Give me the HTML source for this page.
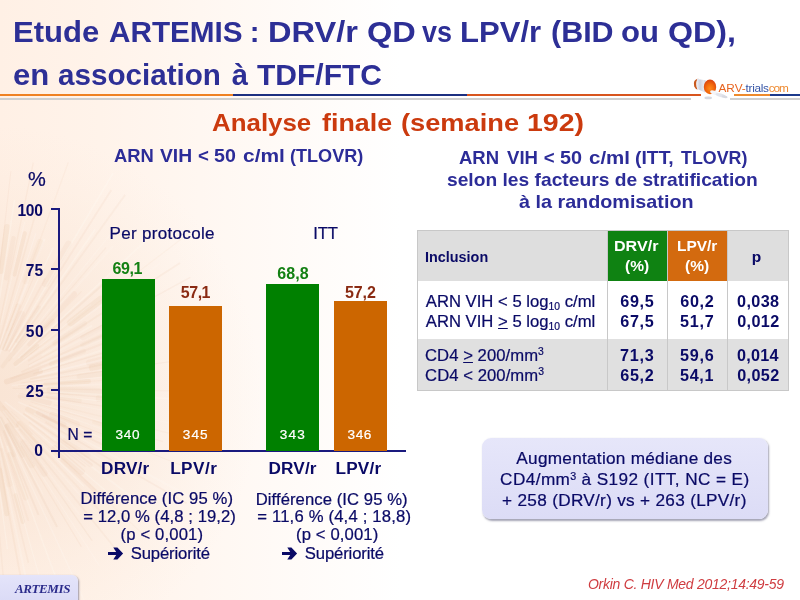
<!DOCTYPE html>
<html lang="fr">
<head>
<meta charset="utf-8">
<title>Etude ARTEMIS : DRV/r QD vs LPV/r (BID ou QD), en association à TDF/FTC</title>
<style>
html,body{margin:0;padding:0;}
body{width:800px;height:600px;overflow:hidden;position:relative;background:#fff;font-family:"Liberation Sans",sans-serif;}
#slide{position:absolute;left:0;top:0;width:800px;height:600px;overflow:hidden;will-change:transform;
  background:linear-gradient(90deg,#fff0e5 0%,#fff3ea 12.5%,#fff7f1 25%,#fffbf8 37.5%,#ffffff 50%);}
#burst{position:absolute;left:0;top:0;width:800px;height:600px;}
.t{position:absolute;white-space:nowrap;line-height:1;margin:0;padding:0;}
.s{position:absolute;}
u{text-decoration:underline;text-underline-offset:1px;}
</style>
</head>
<body>
<div id="slide">
<!-- dandelion burst -->
<svg id="burst" width="800" height="600" viewBox="0 0 800 600">
<defs>
<radialGradient id="bg1" cx="-8" cy="395" r="270" gradientUnits="userSpaceOnUse">
<stop offset="0" stop-color="#f1d5be" stop-opacity="0.42"/>
<stop offset="0.5" stop-color="#f3d9c4" stop-opacity="0.3"/>
<stop offset="1" stop-color="#f8e4d2" stop-opacity="0"/>
</radialGradient>
</defs>
<rect x="0" y="120" width="300" height="480" fill="url(#bg1)"/>
<line x1="1.1" y1="271.3" x2="6.9" y2="226.9" stroke="#d9a47a" stroke-opacity="0.10" stroke-width="5.6" stroke-linecap="round"/>
<line x1="6.1" y1="278.2" x2="13.5" y2="238.2" stroke="#d9a47a" stroke-opacity="0.08" stroke-width="4.7" stroke-linecap="round"/>
<line x1="14.4" y1="274.6" x2="24.8" y2="233.2" stroke="#d9a47a" stroke-opacity="0.11" stroke-width="4.1" stroke-linecap="round"/>
<line x1="25.9" y1="280.8" x2="40.2" y2="242.4" stroke="#d9a47a" stroke-opacity="0.06" stroke-width="6.9" stroke-linecap="round"/>
<line x1="1.9" y1="347.4" x2="18.2" y2="305.8" stroke="#d9a47a" stroke-opacity="0.09" stroke-width="5.1" stroke-linecap="round"/>
<line x1="5.2" y1="348.1" x2="21.6" y2="313.9" stroke="#d9a47a" stroke-opacity="0.08" stroke-width="6.3" stroke-linecap="round"/>
<line x1="45.5" y1="283.9" x2="68.4" y2="243.8" stroke="#d9a47a" stroke-opacity="0.08" stroke-width="6.5" stroke-linecap="round"/>
<line x1="17.1" y1="340.9" x2="38.9" y2="307.9" stroke="#d9a47a" stroke-opacity="0.07" stroke-width="4.4" stroke-linecap="round"/>
<line x1="2.6" y1="366.3" x2="30.8" y2="329.5" stroke="#d9a47a" stroke-opacity="0.07" stroke-width="4.0" stroke-linecap="round"/>
<line x1="44.8" y1="325.2" x2="74.2" y2="293.9" stroke="#d9a47a" stroke-opacity="0.09" stroke-width="5.5" stroke-linecap="round"/>
<line x1="29.2" y1="344.4" x2="52.8" y2="320.7" stroke="#d9a47a" stroke-opacity="0.08" stroke-width="4.1" stroke-linecap="round"/>
<line x1="15.4" y1="364.0" x2="37.4" y2="346.1" stroke="#d9a47a" stroke-opacity="0.10" stroke-width="4.2" stroke-linecap="round"/>
<line x1="70.7" y1="322.6" x2="101.0" y2="299.3" stroke="#d9a47a" stroke-opacity="0.10" stroke-width="7.4" stroke-linecap="round"/>
<line x1="54.6" y1="343.3" x2="84.8" y2="323.6" stroke="#d9a47a" stroke-opacity="0.07" stroke-width="4.7" stroke-linecap="round"/>
<line x1="82.5" y1="337.6" x2="124.4" y2="315.7" stroke="#d9a47a" stroke-opacity="0.08" stroke-width="4.7" stroke-linecap="round"/>
<line x1="82.4" y1="344.8" x2="127.8" y2="324.5" stroke="#d9a47a" stroke-opacity="0.07" stroke-width="4.7" stroke-linecap="round"/>
<line x1="50.9" y1="363.7" x2="83.9" y2="351.3" stroke="#d9a47a" stroke-opacity="0.07" stroke-width="4.3" stroke-linecap="round"/>
<line x1="6.7" y1="381.6" x2="40.0" y2="371.3" stroke="#d9a47a" stroke-opacity="0.11" stroke-width="5.6" stroke-linecap="round"/>
<line x1="89.1" y1="362.7" x2="123.4" y2="354.3" stroke="#d9a47a" stroke-opacity="0.08" stroke-width="6.2" stroke-linecap="round"/>
<line x1="92.1" y1="367.8" x2="122.1" y2="362.1" stroke="#d9a47a" stroke-opacity="0.11" stroke-width="6.6" stroke-linecap="round"/>
<line x1="79.4" y1="376.5" x2="119.6" y2="371.5" stroke="#d9a47a" stroke-opacity="0.07" stroke-width="5.5" stroke-linecap="round"/>
<line x1="45.7" y1="384.1" x2="88.5" y2="381.4" stroke="#d9a47a" stroke-opacity="0.10" stroke-width="4.9" stroke-linecap="round"/>
<line x1="50.3" y1="390.0" x2="98.6" y2="391.6" stroke="#d9a47a" stroke-opacity="0.07" stroke-width="7.4" stroke-linecap="round"/>
<line x1="99.3" y1="398.5" x2="131.9" y2="401.5" stroke="#d9a47a" stroke-opacity="0.07" stroke-width="7.2" stroke-linecap="round"/>
<line x1="48.0" y1="396.4" x2="79.7" y2="400.6" stroke="#d9a47a" stroke-opacity="0.07" stroke-width="4.2" stroke-linecap="round"/>
<line x1="20.6" y1="396.0" x2="49.1" y2="402.7" stroke="#d9a47a" stroke-opacity="0.08" stroke-width="5.6" stroke-linecap="round"/>
<line x1="94.1" y1="422.1" x2="122.1" y2="430.9" stroke="#d9a47a" stroke-opacity="0.06" stroke-width="4.1" stroke-linecap="round"/>
<line x1="52.3" y1="414.6" x2="76.9" y2="424.5" stroke="#d9a47a" stroke-opacity="0.08" stroke-width="6.2" stroke-linecap="round"/>
<line x1="38.7" y1="412.7" x2="63.8" y2="424.5" stroke="#d9a47a" stroke-opacity="0.08" stroke-width="5.6" stroke-linecap="round"/>
<line x1="27.7" y1="409.1" x2="70.4" y2="430.8" stroke="#d9a47a" stroke-opacity="0.09" stroke-width="5.2" stroke-linecap="round"/>
<line x1="65.5" y1="440.2" x2="87.8" y2="454.9" stroke="#d9a47a" stroke-opacity="0.06" stroke-width="5.7" stroke-linecap="round"/>
<line x1="57.9" y1="441.0" x2="90.6" y2="465.1" stroke="#d9a47a" stroke-opacity="0.09" stroke-width="4.3" stroke-linecap="round"/>
<line x1="54.9" y1="448.4" x2="81.5" y2="471.7" stroke="#d9a47a" stroke-opacity="0.09" stroke-width="6.6" stroke-linecap="round"/>
<line x1="62.6" y1="460.3" x2="94.6" y2="490.5" stroke="#d9a47a" stroke-opacity="0.09" stroke-width="4.1" stroke-linecap="round"/>
<line x1="19.5" y1="424.2" x2="38.9" y2="445.3" stroke="#d9a47a" stroke-opacity="0.09" stroke-width="6.7" stroke-linecap="round"/>
<line x1="-2.8" y1="401.9" x2="15.7" y2="424.8" stroke="#d9a47a" stroke-opacity="0.09" stroke-width="6.1" stroke-linecap="round"/>
<line x1="23.5" y1="443.0" x2="44.1" y2="473.3" stroke="#d9a47a" stroke-opacity="0.08" stroke-width="7.1" stroke-linecap="round"/>
<line x1="8.5" y1="426.0" x2="31.7" y2="464.9" stroke="#d9a47a" stroke-opacity="0.07" stroke-width="6.6" stroke-linecap="round"/>
<line x1="6.5" y1="426.2" x2="22.4" y2="455.8" stroke="#d9a47a" stroke-opacity="0.08" stroke-width="4.5" stroke-linecap="round"/>
<line x1="-5.0" y1="409.6" x2="13.7" y2="454.7" stroke="#d9a47a" stroke-opacity="0.07" stroke-width="5.0" stroke-linecap="round"/>
<line x1="10.1" y1="454.6" x2="25.7" y2="497.8" stroke="#d9a47a" stroke-opacity="0.09" stroke-width="5.3" stroke-linecap="round"/>
<line x1="15.5" y1="495.2" x2="22.9" y2="522.0" stroke="#d9a47a" stroke-opacity="0.10" stroke-width="4.1" stroke-linecap="round"/>
<line x1="1.2" y1="451.3" x2="9.0" y2="483.8" stroke="#d9a47a" stroke-opacity="0.06" stroke-width="6.8" stroke-linecap="round"/>
<line x1="-0.4" y1="469.9" x2="6.8" y2="513.8" stroke="#d9a47a" stroke-opacity="0.10" stroke-width="4.9" stroke-linecap="round"/>
<line x1="-10.2" y1="318.9" x2="-6.5" y2="253.2" stroke="#e0b591" stroke-opacity="0.08" stroke-width="1.6"/>
<line x1="-10.5" y1="348.5" x2="-2.6" y2="258.4" stroke="#fffaf5" stroke-opacity="0.19" stroke-width="2.0"/>
<line x1="-7.6" y1="332.1" x2="10.9" y2="171.3" stroke="#e0b591" stroke-opacity="0.10" stroke-width="1.0"/>
<line x1="-5.1" y1="329.3" x2="14.5" y2="200.0" stroke="#fffaf5" stroke-opacity="0.29" stroke-width="1.6"/>
<line x1="-7.9" y1="359.0" x2="33.3" y2="162.6" stroke="#e0b591" stroke-opacity="0.11" stroke-width="1.3"/>
<line x1="0.7" y1="324.8" x2="24.6" y2="222.0" stroke="#fffaf5" stroke-opacity="0.22" stroke-width="1.2"/>
<line x1="-7.9" y1="366.5" x2="38.4" y2="203.8" stroke="#e0b591" stroke-opacity="0.11" stroke-width="1.6"/>
<line x1="-2.2" y1="351.4" x2="35.8" y2="233.4" stroke="#fffaf5" stroke-opacity="0.30" stroke-width="1.1"/>
<line x1="6.7" y1="331.3" x2="68.3" y2="162.4" stroke="#e0b591" stroke-opacity="0.08" stroke-width="1.3"/>
<line x1="-4.4" y1="363.6" x2="44.6" y2="238.8" stroke="#fffaf5" stroke-opacity="0.30" stroke-width="2.1"/>
<line x1="8.4" y1="336.1" x2="34.3" y2="275.9" stroke="#e0b591" stroke-opacity="0.10" stroke-width="1.0"/>
<line x1="4.2" y1="349.9" x2="53.2" y2="247.4" stroke="#fffaf5" stroke-opacity="0.29" stroke-width="1.3"/>
<line x1="6.3" y1="350.5" x2="45.3" y2="278.4" stroke="#e0b591" stroke-opacity="0.10" stroke-width="1.8"/>
<line x1="8.7" y1="349.6" x2="113.2" y2="172.8" stroke="#fffaf5" stroke-opacity="0.29" stroke-width="1.6"/>
<line x1="9.1" y1="351.6" x2="111.3" y2="189.9" stroke="#e0b591" stroke-opacity="0.10" stroke-width="1.8"/>
<line x1="10.4" y1="352.5" x2="95.2" y2="229.3" stroke="#fffaf5" stroke-opacity="0.28" stroke-width="1.7"/>
<line x1="13.3" y1="350.1" x2="125.1" y2="194.9" stroke="#e0b591" stroke-opacity="0.09" stroke-width="1.8"/>
<line x1="26.1" y1="338.5" x2="111.4" y2="233.2" stroke="#fffaf5" stroke-opacity="0.20" stroke-width="1.2"/>
<line x1="8.8" y1="361.3" x2="106.0" y2="247.6" stroke="#e0b591" stroke-opacity="0.09" stroke-width="1.1"/>
<line x1="12.7" y1="358.1" x2="112.7" y2="246.4" stroke="#fffaf5" stroke-opacity="0.17" stroke-width="2.1"/>
<line x1="34.9" y1="338.6" x2="81.6" y2="291.4" stroke="#e0b591" stroke-opacity="0.08" stroke-width="1.2"/>
<line x1="18.4" y1="358.2" x2="162.3" y2="225.6" stroke="#fffaf5" stroke-opacity="0.27" stroke-width="1.5"/>
<line x1="20.2" y1="357.7" x2="108.9" y2="279.1" stroke="#e0b591" stroke-opacity="0.12" stroke-width="2.1"/>
<line x1="23.0" y1="358.6" x2="91.0" y2="304.6" stroke="#fffaf5" stroke-opacity="0.22" stroke-width="1.0"/>
<line x1="30.3" y1="354.2" x2="182.4" y2="238.2" stroke="#e0b591" stroke-opacity="0.07" stroke-width="1.2"/>
<line x1="15.0" y1="367.3" x2="160.1" y2="263.4" stroke="#fffaf5" stroke-opacity="0.19" stroke-width="1.6"/>
<line x1="28.0" y1="360.9" x2="180.0" y2="263.0" stroke="#e0b591" stroke-opacity="0.11" stroke-width="1.9"/>
<line x1="41.4" y1="355.5" x2="92.1" y2="325.7" stroke="#fffaf5" stroke-opacity="0.25" stroke-width="2.0"/>
<line x1="28.1" y1="365.2" x2="190.3" y2="277.4" stroke="#e0b591" stroke-opacity="0.10" stroke-width="1.3"/>
<line x1="28.9" y1="366.2" x2="161.0" y2="299.1" stroke="#fffaf5" stroke-opacity="0.18" stroke-width="2.1"/>
<line x1="21.3" y1="372.1" x2="116.9" y2="329.1" stroke="#e0b591" stroke-opacity="0.11" stroke-width="2.1"/>
<line x1="40.7" y1="365.0" x2="120.0" y2="331.8" stroke="#fffaf5" stroke-opacity="0.17" stroke-width="2.1"/>
<line x1="10.5" y1="378.7" x2="145.4" y2="327.6" stroke="#e0b591" stroke-opacity="0.10" stroke-width="2.1"/>
<line x1="39.1" y1="370.7" x2="124.9" y2="342.7" stroke="#fffaf5" stroke-opacity="0.25" stroke-width="2.0"/>
<line x1="33.3" y1="373.9" x2="145.5" y2="340.4" stroke="#e0b591" stroke-opacity="0.12" stroke-width="1.4"/>
<line x1="37.0" y1="375.6" x2="146.0" y2="349.2" stroke="#fffaf5" stroke-opacity="0.30" stroke-width="2.0"/>
<line x1="30.2" y1="379.1" x2="106.7" y2="363.7" stroke="#e0b591" stroke-opacity="0.12" stroke-width="1.7"/>
<line x1="30.5" y1="380.8" x2="128.8" y2="365.0" stroke="#fffaf5" stroke-opacity="0.18" stroke-width="1.2"/>
<line x1="21.2" y1="383.0" x2="191.4" y2="358.6" stroke="#e0b591" stroke-opacity="0.10" stroke-width="1.2"/>
<line x1="11.6" y1="385.6" x2="118.0" y2="375.8" stroke="#fffaf5" stroke-opacity="0.21" stroke-width="1.5"/>
<line x1="18.0" y1="385.9" x2="154.2" y2="377.2" stroke="#e0b591" stroke-opacity="0.11" stroke-width="1.0"/>
<line x1="27.6" y1="386.7" x2="152.7" y2="382.8" stroke="#fffaf5" stroke-opacity="0.21" stroke-width="2.1"/>
<line x1="12.5" y1="388.4" x2="209.0" y2="391.5" stroke="#e0b591" stroke-opacity="0.09" stroke-width="1.1"/>
<line x1="49.9" y1="391.7" x2="223.7" y2="401.8" stroke="#fffaf5" stroke-opacity="0.29" stroke-width="1.7"/>
<line x1="35.9" y1="391.9" x2="149.8" y2="400.8" stroke="#e0b591" stroke-opacity="0.12" stroke-width="1.3"/>
<line x1="43.3" y1="394.5" x2="125.9" y2="403.8" stroke="#fffaf5" stroke-opacity="0.29" stroke-width="1.2"/>
<line x1="33.3" y1="395.4" x2="152.1" y2="413.9" stroke="#e0b591" stroke-opacity="0.10" stroke-width="1.2"/>
<line x1="16.3" y1="393.8" x2="205.7" y2="429.8" stroke="#fffaf5" stroke-opacity="0.20" stroke-width="1.1"/>
<line x1="53.5" y1="404.7" x2="216.4" y2="444.9" stroke="#e0b591" stroke-opacity="0.07" stroke-width="1.3"/>
<line x1="20.9" y1="398.1" x2="128.3" y2="429.0" stroke="#fffaf5" stroke-opacity="0.22" stroke-width="1.2"/>
<line x1="30.7" y1="401.6" x2="162.7" y2="441.6" stroke="#e0b591" stroke-opacity="0.08" stroke-width="1.1"/>
<line x1="32.8" y1="404.5" x2="113.2" y2="432.9" stroke="#fffaf5" stroke-opacity="0.18" stroke-width="1.3"/>
<line x1="29.0" y1="405.0" x2="189.6" y2="468.6" stroke="#e0b591" stroke-opacity="0.11" stroke-width="1.0"/>
<line x1="18.3" y1="402.0" x2="136.8" y2="453.3" stroke="#fffaf5" stroke-opacity="0.24" stroke-width="1.5"/>
<line x1="42.3" y1="415.4" x2="105.6" y2="446.1" stroke="#e0b591" stroke-opacity="0.10" stroke-width="1.8"/>
<line x1="33.7" y1="413.4" x2="201.5" y2="502.8" stroke="#fffaf5" stroke-opacity="0.21" stroke-width="2.1"/>
<line x1="45.4" y1="422.2" x2="186.5" y2="503.3" stroke="#e0b591" stroke-opacity="0.10" stroke-width="1.7"/>
<line x1="24.8" y1="412.3" x2="119.0" y2="471.3" stroke="#fffaf5" stroke-opacity="0.22" stroke-width="1.4"/>
<line x1="23.3" y1="413.5" x2="114.1" y2="475.4" stroke="#e0b591" stroke-opacity="0.13" stroke-width="1.8"/>
<line x1="4.7" y1="401.9" x2="162.7" y2="519.8" stroke="#fffaf5" stroke-opacity="0.24" stroke-width="1.8"/>
<line x1="29.0" y1="422.0" x2="85.5" y2="466.7" stroke="#e0b591" stroke-opacity="0.09" stroke-width="1.5"/>
<line x1="29.0" y1="425.0" x2="108.5" y2="493.2" stroke="#fffaf5" stroke-opacity="0.27" stroke-width="1.3"/>
<line x1="10.9" y1="411.2" x2="145.7" y2="536.7" stroke="#e0b591" stroke-opacity="0.07" stroke-width="1.1"/>
<line x1="32.3" y1="434.6" x2="83.8" y2="486.4" stroke="#fffaf5" stroke-opacity="0.29" stroke-width="1.3"/>
<line x1="2.6" y1="405.9" x2="104.5" y2="515.7" stroke="#e0b591" stroke-opacity="0.08" stroke-width="2.0"/>
<line x1="5.4" y1="410.1" x2="96.3" y2="513.7" stroke="#fffaf5" stroke-opacity="0.18" stroke-width="1.5"/>
<line x1="19.0" y1="429.1" x2="116.8" y2="550.5" stroke="#e0b591" stroke-opacity="0.09" stroke-width="1.9"/>
<line x1="3.0" y1="411.0" x2="79.6" y2="514.9" stroke="#fffaf5" stroke-opacity="0.18" stroke-width="1.6"/>
<line x1="7.0" y1="418.2" x2="92.1" y2="540.7" stroke="#e0b591" stroke-opacity="0.12" stroke-width="1.3"/>
<line x1="16.5" y1="435.9" x2="99.4" y2="565.8" stroke="#fffaf5" stroke-opacity="0.19" stroke-width="1.3"/>
<line x1="20.8" y1="446.0" x2="81.4" y2="546.8" stroke="#e0b591" stroke-opacity="0.11" stroke-width="1.2"/>
<line x1="10.7" y1="434.0" x2="43.4" y2="494.8" stroke="#fffaf5" stroke-opacity="0.20" stroke-width="1.0"/>
<line x1="0.9" y1="417.1" x2="57.1" y2="527.0" stroke="#e0b591" stroke-opacity="0.12" stroke-width="2.1"/>
<line x1="-0.0" y1="418.2" x2="89.9" y2="612.7" stroke="#fffaf5" stroke-opacity="0.23" stroke-width="1.4"/>
<line x1="3.5" y1="430.3" x2="38.5" y2="514.9" stroke="#e0b591" stroke-opacity="0.12" stroke-width="2.0"/>
<line x1="7.2" y1="445.7" x2="65.1" y2="602.9" stroke="#fffaf5" stroke-opacity="0.27" stroke-width="1.5"/>
<line x1="-1.6" y1="426.8" x2="28.4" y2="521.0" stroke="#e0b591" stroke-opacity="0.08" stroke-width="2.0"/>
<line x1="-4.2" y1="422.6" x2="45.5" y2="598.4" stroke="#fffaf5" stroke-opacity="0.28" stroke-width="1.2"/>
<line x1="-2.3" y1="436.5" x2="28.4" y2="563.0" stroke="#e0b591" stroke-opacity="0.09" stroke-width="1.7"/>
<line x1="-3.9" y1="436.2" x2="32.4" y2="609.2" stroke="#fffaf5" stroke-opacity="0.22" stroke-width="2.0"/>
<line x1="-7.4" y1="424.3" x2="28.9" y2="622.5" stroke="#e0b591" stroke-opacity="0.11" stroke-width="1.8"/>
<line x1="-6.3" y1="446.2" x2="7.4" y2="549.2" stroke="#fffaf5" stroke-opacity="0.28" stroke-width="1.3"/>
<line x1="-10.6" y1="425.5" x2="7.7" y2="624.8" stroke="#e0b591" stroke-opacity="0.09" stroke-width="1.5"/>
<line x1="-10.3" y1="453.2" x2="-2.2" y2="597.0" stroke="#fffaf5" stroke-opacity="0.20" stroke-width="1.6"/>
</svg>

<!-- title rule -->
<div class="s" style="left:0;top:94px;width:233px;height:2.4px;background:#ef8122;"></div>
<div class="s" style="left:232.5px;top:94px;width:235px;height:2.4px;background:#1c2f80;"></div>
<div class="s" style="left:467.2px;top:94px;width:233.5px;height:2.4px;background:#d8551e;"></div>
<div class="s" style="left:734px;top:94px;width:36.5px;height:2.4px;background:#ee8a2c;"></div>
<div class="s" style="left:770.3px;top:94px;width:30px;height:2.4px;background:#1c3a8c;"></div>
<div class="s" style="left:0;top:98px;width:691px;height:2.4px;background:#cfcfcf;"></div>
<div class="s" style="left:730px;top:98px;width:70px;height:2.4px;background:#cfcfcf;"></div>

<!-- logo pill bottle -->
<svg class="s" style="left:690px;top:74px" width="40" height="28" viewBox="0 0 40 28">
<defs>
<radialGradient id="og" cx="0.5" cy="0.62" r="0.62">
<stop offset="0" stop-color="#ff8a1c"/><stop offset="0.5" stop-color="#f36a0c"/><stop offset="1" stop-color="#d8400e"/>
</radialGradient>
<linearGradient id="wg" x1="0" y1="0" x2="1" y2="0">
<stop offset="0" stop-color="#f2f3f8"/><stop offset="0.4" stop-color="#cdd2e0"/><stop offset="0.8" stop-color="#e6e8f0"/><stop offset="1" stop-color="#c9cddb"/>
</linearGradient>
</defs>
<path d="M8.6 4.4 Q2.4 5.4 4.2 12.4 Q5.4 15 7.6 15.4 Q5.4 10.4 7.4 5.6 Z" fill="#c8581e"/>
<path d="M7.2 4.9 L15.6 6.2 L15 18.4 L7.3 15 Q5.4 10 7.2 4.9 Z" fill="url(#wg)"/>
<ellipse cx="20" cy="12.9" rx="6.2" ry="7.3" fill="url(#og)"/>
<ellipse cx="24.2" cy="18.6" rx="4.2" ry="1.9" transform="rotate(18 24.2 18.6)" fill="#f4f5f9"/>
<ellipse cx="30.6" cy="21.2" rx="5.2" ry="1.8" transform="rotate(14 30.6 21.2)" fill="#e3e5ec"/>
<ellipse cx="34.6" cy="22.8" rx="3" ry="1.3" transform="rotate(10 34.6 22.8)" fill="#d8dae2"/>
<ellipse cx="18.2" cy="23.9" rx="3.8" ry="1.3" fill="#d6d8e0"/>
</svg>

<!-- chart axes -->
<div class="s" style="left:58.3px;top:208.2px;width:2px;height:250px;background:#1a1a7e;"></div>
<div class="s" style="left:51px;top:450.2px;width:354.6px;height:2px;background:#1a1a7e;"></div>
<div class="s" style="left:51px;top:208.2px;width:8px;height:2px;background:#1a1a7e;"></div>
<div class="s" style="left:51px;top:268.2px;width:8px;height:2px;background:#1a1a7e;"></div>
<div class="s" style="left:51px;top:329px;width:8px;height:2px;background:#1a1a7e;"></div>
<div class="s" style="left:51px;top:389px;width:8px;height:2px;background:#1a1a7e;"></div>
<!-- bars -->
<div class="s" style="left:101.9px;top:278.9px;width:52.9px;height:171.7px;background:#008000;"></div>
<div class="s" style="left:169.1px;top:306.4px;width:53.3px;height:144.2px;background:#cc6600;"></div>
<div class="s" style="left:266px;top:283.7px;width:53px;height:166.9px;background:#008000;"></div>
<div class="s" style="left:333.6px;top:301.4px;width:53px;height:149.2px;background:#cc6600;"></div>

<!-- table -->
<div class="s" style="left:417px;top:230px;width:372px;height:160.8px;background:#c8c8c8;"></div>
<div class="s" style="left:418px;top:231px;width:189px;height:50.3px;background:#dedede;"></div>
<div class="s" style="left:608px;top:231px;width:59px;height:50.3px;background:#0f8212;"></div>
<div class="s" style="left:668px;top:231px;width:59px;height:50.3px;background:#d36a0f;"></div>
<div class="s" style="left:728px;top:231px;width:60px;height:50.3px;background:#dedede;"></div>
<div class="s" style="left:418px;top:281.3px;width:189px;height:57.9px;background:#ffffff;"></div>
<div class="s" style="left:608px;top:281.3px;width:59px;height:57.9px;background:#ffffff;"></div>
<div class="s" style="left:668px;top:281.3px;width:59px;height:57.9px;background:#ffffff;"></div>
<div class="s" style="left:728px;top:281.3px;width:60px;height:57.9px;background:#ffffff;"></div>
<div class="s" style="left:418px;top:339.2px;width:189px;height:50.6px;background:#e0e0e0;"></div>
<div class="s" style="left:608px;top:339.2px;width:59px;height:50.6px;background:#e0e0e0;"></div>
<div class="s" style="left:668px;top:339.2px;width:59px;height:50.6px;background:#e0e0e0;"></div>
<div class="s" style="left:728px;top:339.2px;width:60px;height:50.6px;background:#e0e0e0;"></div>

<!-- info box -->
<div class="s" style="left:482px;top:438px;width:285.5px;height:81px;border-radius:9px;background:linear-gradient(180deg,#e6e6fa 0%,#dcdcf6 100%);box-shadow:1px 1.5px 2px rgba(90,90,120,0.55);"></div>

<!-- ARTEMIS badge -->
<div class="s" style="left:-10px;top:574.5px;width:88px;height:40px;border-radius:6px;background:linear-gradient(180deg,#e4e4fa 0%,#d6d6f4 100%);box-shadow:1px 1px 2px rgba(90,90,120,0.6);"></div>

<!-- arrows -->
<svg class="s" style="left:108px;top:546.6px" width="16" height="13" viewBox="0 0 16 13"><path d="M0 4.9 H8.2 L5.3 0.6 H9.4 L15.1 6.5 L9.4 12.4 H5.3 L8.2 8.1 H0 Z" fill="#0a0a66"/></svg>
<svg class="s" style="left:282.2px;top:547.3px" width="16" height="13" viewBox="0 0 16 13"><path d="M0 4.9 H8.2 L5.3 0.6 H9.4 L15.1 6.5 L9.4 12.4 H5.3 L8.2 8.1 H0 Z" fill="#0a0a66"/></svg>

<div class="t" id="t1_0" style="left:12.97px;top:17.78px;font-size:29.20px;color:#2d2f96;font-weight:bold;transform:scaleX(1.0639);transform-origin:0 0;">Etude</div>
<div class="t" id="t1_1" style="left:109.01px;top:17.78px;font-size:29.20px;color:#2d2f96;font-weight:bold;transform:scaleX(1.0178);transform-origin:0 0;">ARTEMIS</div>
<div class="t" id="t1_2" style="left:249.73px;top:17.78px;font-size:29.20px;color:#2d2f96;font-weight:bold;">:</div>
<div class="t" id="t1_3" style="left:267.80px;top:17.78px;font-size:29.20px;color:#2d2f96;font-weight:bold;transform:scaleX(1.1151);transform-origin:0 0;">DRV/r</div>
<div class="t" id="t1_4" style="left:366.51px;top:17.78px;font-size:29.20px;color:#2d2f96;font-weight:bold;transform:scaleX(1.1145);transform-origin:0 0;">QD</div>
<div class="t" id="t1_5" style="left:422.42px;top:17.78px;font-size:29.20px;color:#2d2f96;font-weight:bold;transform:scaleX(0.9227);transform-origin:0 0;">vs</div>
<div class="t" id="t1_6" style="left:460.44px;top:17.78px;font-size:29.20px;color:#2d2f96;font-weight:bold;transform:scaleX(1.0639);transform-origin:0 0;">LPV/r</div>
<div class="t" id="t1_7" style="left:551.33px;top:17.78px;font-size:29.20px;color:#2d2f96;font-weight:bold;transform:scaleX(1.0433);transform-origin:0 0;">(BID</div>
<div class="t" id="t1_8" style="left:621.39px;top:17.78px;font-size:29.20px;color:#2d2f96;font-weight:bold;transform:scaleX(1.0634);transform-origin:0 0;">ou</div>
<div class="t" id="t1_9" style="left:667.71px;top:17.78px;font-size:29.20px;color:#2d2f96;font-weight:bold;transform:scaleX(1.1011);transform-origin:0 0;">QD),</div>
<div class="t" id="t2_0" style="left:13.29px;top:61.08px;font-size:29.20px;color:#2d2f96;font-weight:bold;transform:scaleX(1.0647);transform-origin:0 0;">en</div>
<div class="t" id="t2_1" style="left:57.85px;top:61.08px;font-size:29.20px;color:#2d2f96;font-weight:bold;transform:scaleX(1.0148);transform-origin:0 0;">association</div>
<div class="t" id="t2_2" style="left:231.85px;top:61.08px;font-size:29.20px;color:#2d2f96;font-weight:bold;">à</div>
<div class="t" id="t2_3" style="left:257.39px;top:61.08px;font-size:29.20px;color:#2d2f96;font-weight:bold;transform:scaleX(1.0282);transform-origin:0 0;">TDF/FTC</div>
<div class="t" id="sub_0" style="left:212.36px;top:110.51px;font-size:24.50px;color:#cb3a0e;font-weight:bold;transform:scaleX(1.0561);transform-origin:0 0;">Analyse</div>
<div class="t" id="sub_1" style="left:322.42px;top:110.51px;font-size:24.50px;color:#cb3a0e;font-weight:bold;transform:scaleX(1.0949);transform-origin:0 0;">finale</div>
<div class="t" id="sub_2" style="left:400.64px;top:110.51px;font-size:24.50px;color:#cb3a0e;font-weight:bold;transform:scaleX(1.1115);transform-origin:0 0;">(semaine</div>
<div class="t" id="sub_3" style="left:526.84px;top:110.51px;font-size:24.50px;color:#cb3a0e;font-weight:bold;transform:scaleX(1.1623);transform-origin:0 0;">192)</div>
<div class="t" id="h1_0" style="left:114.32px;top:147.01px;font-size:18.60px;color:#2c2c98;font-weight:bold;transform:scaleX(0.9891);transform-origin:0 0;">ARN</div>
<div class="t" id="h1_1" style="left:160.48px;top:147.01px;font-size:18.60px;color:#2c2c98;font-weight:bold;transform:scaleX(1.0366);transform-origin:0 0;">VIH</div>
<div class="t" id="h1_2" style="left:198.11px;top:147.01px;font-size:18.60px;color:#2c2c98;font-weight:bold;">&lt;</div>
<div class="t" id="h1_3" style="left:214.48px;top:147.01px;font-size:18.60px;color:#2c2c98;font-weight:bold;transform:scaleX(1.0550);transform-origin:0 0;">50</div>
<div class="t" id="h1_4" style="left:242.83px;top:147.01px;font-size:18.60px;color:#2c2c98;font-weight:bold;transform:scaleX(1.1246);transform-origin:0 0;">c/ml</div>
<div class="t" id="h1_5" style="left:289.72px;top:147.01px;font-size:18.60px;color:#2c2c98;font-weight:bold;transform:scaleX(0.9717);transform-origin:0 0;">(TLOVR)</div>
<div class="t" id="r1_0" style="left:458.98px;top:148.86px;font-size:18.60px;color:#2c2c98;font-weight:bold;transform:scaleX(0.9950);transform-origin:0 0;">ARN</div>
<div class="t" id="r1_1" style="left:506.51px;top:148.86px;font-size:18.60px;color:#2c2c98;font-weight:bold;transform:scaleX(0.9986);transform-origin:0 0;">VIH</div>
<div class="t" id="r1_2" style="left:543.74px;top:148.86px;font-size:18.60px;color:#2c2c98;font-weight:bold;">&lt;</div>
<div class="t" id="r1_3" style="left:560.29px;top:148.86px;font-size:18.60px;color:#2c2c98;font-weight:bold;transform:scaleX(1.0657);transform-origin:0 0;">50</div>
<div class="t" id="r1_4" style="left:588.76px;top:148.86px;font-size:18.60px;color:#2c2c98;font-weight:bold;transform:scaleX(1.1023);transform-origin:0 0;">c/ml</div>
<div class="t" id="r1_5" style="left:635.30px;top:148.86px;font-size:18.60px;color:#2c2c98;font-weight:bold;transform:scaleX(1.0408);transform-origin:0 0;">(ITT,</div>
<div class="t" id="r1_6" style="left:681.35px;top:148.86px;font-size:18.60px;color:#2c2c98;font-weight:bold;transform:scaleX(0.9586);transform-origin:0 0;">TLOVR)</div>
<div class="t" id="r2" style="left:447.32px;top:171.26px;font-size:18.60px;color:#2c2c98;font-weight:bold;transform:scaleX(1.0334);transform-origin:0 0;">selon les facteurs de stratification</div>
<div class="t" id="r3" style="left:518.64px;top:193.46px;font-size:18.60px;color:#2c2c98;font-weight:bold;transform:scaleX(1.0625);transform-origin:0 0;">à la randomisation</div>
<div class="t" id="pct" style="left:27.91px;top:169.07px;font-size:20.00px;color:#0a0a66;-webkit-text-stroke:0.22px #0a0a66;">%</div>
<div class="t" id="y100" style="left:17.39px;top:203.39px;font-size:15.60px;color:#0a0a66;font-weight:bold;letter-spacing:-0.189px;">100</div>
<div class="t" id="y75" style="left:25.75px;top:263.39px;font-size:15.60px;color:#0a0a66;font-weight:bold;letter-spacing:0.109px;">75</div>
<div class="t" id="y50" style="left:25.73px;top:324.29px;font-size:15.60px;color:#0a0a66;font-weight:bold;letter-spacing:0.584px;">50</div>
<div class="t" id="y25" style="left:25.87px;top:383.59px;font-size:15.60px;color:#0a0a66;font-weight:bold;letter-spacing:0.449px;">25</div>
<div class="t" id="y0" style="left:34.19px;top:442.59px;font-size:15.60px;color:#0a0a66;font-weight:bold;">0</div>
<div class="t" id="pp" style="left:109.50px;top:225.36px;font-size:17.00px;color:#0a0a66;-webkit-text-stroke:0.22px #0a0a66;letter-spacing:0.321px;">Per protocole</div>
<div class="t" id="itt" style="left:313.26px;top:225.64px;font-size:16.67px;color:#0a0a66;-webkit-text-stroke:0.22px #0a0a66;letter-spacing:-0.206px;">ITT</div>
<div class="t" id="v1" style="left:112.61px;top:260.96px;font-size:16.00px;color:#138013;font-weight:bold;letter-spacing:-0.410px;">69,1</div>
<div class="t" id="v2" style="left:180.86px;top:284.56px;font-size:16.00px;color:#8a2a12;font-weight:bold;letter-spacing:-0.511px;">57,1</div>
<div class="t" id="v3" style="left:277.35px;top:266.21px;font-size:16.00px;color:#138013;font-weight:bold;letter-spacing:0.031px;">68,8</div>
<div class="t" id="v4" style="left:344.97px;top:285.46px;font-size:16.00px;color:#8a2a12;font-weight:bold;letter-spacing:-0.097px;">57,2</div>
<div class="t" id="neq" style="left:67.52px;top:426.79px;font-size:15.60px;color:#0a0a66;-webkit-text-stroke:0.22px #0a0a66;letter-spacing:0.100px;">N =</div>
<div class="t" id="n1" style="left:115.48px;top:427.79px;font-size:13.60px;color:#ffffff;-webkit-text-stroke:0.22px #ffffff;letter-spacing:0.756px;">340</div>
<div class="t" id="n2" style="left:182.85px;top:427.79px;font-size:13.60px;color:#ffffff;-webkit-text-stroke:0.22px #ffffff;letter-spacing:1.073px;">345</div>
<div class="t" id="n3" style="left:279.69px;top:427.79px;font-size:13.60px;color:#ffffff;-webkit-text-stroke:0.22px #ffffff;letter-spacing:1.176px;">343</div>
<div class="t" id="n4" style="left:347.61px;top:427.79px;font-size:13.60px;color:#ffffff;-webkit-text-stroke:0.22px #ffffff;letter-spacing:0.458px;">346</div>
<div class="t" id="d1" style="left:101.12px;top:459.84px;font-size:17.20px;color:#0a0a66;font-weight:bold;letter-spacing:0.178px;">DRV/r</div>
<div class="t" id="l1" style="left:170.17px;top:459.84px;font-size:17.20px;color:#0a0a66;font-weight:bold;letter-spacing:0.453px;">LPV/r</div>
<div class="t" id="d2" style="left:268.53px;top:459.84px;font-size:17.20px;color:#0a0a66;font-weight:bold;letter-spacing:0.145px;">DRV/r</div>
<div class="t" id="l2" style="left:335.61px;top:459.84px;font-size:17.20px;color:#0a0a66;font-weight:bold;letter-spacing:0.143px;">LPV/r</div>
<div class="t" id="a1" style="left:80.54px;top:491.39px;font-size:16.67px;color:#0a0a66;-webkit-text-stroke:0.22px #0a0a66;letter-spacing:0.098px;">Différence (IC 95 %)</div>
<div class="t" id="a2" style="left:83.21px;top:509.39px;font-size:16.67px;color:#0a0a66;-webkit-text-stroke:0.22px #0a0a66;letter-spacing:0.063px;">= 12,0 % (4,8 ; 19,2)</div>
<div class="t" id="a3" style="left:120.54px;top:527.39px;font-size:16.67px;color:#0a0a66;-webkit-text-stroke:0.22px #0a0a66;letter-spacing:0.149px;">(p &lt; 0,001)</div>
<div class="t" id="a4" style="left:130.66px;top:546.09px;font-size:16.67px;color:#0a0a66;-webkit-text-stroke:0.22px #0a0a66;letter-spacing:-0.116px;">Supériorité</div>
<div class="t" id="b1" style="left:255.69px;top:491.69px;font-size:16.67px;color:#0a0a66;-webkit-text-stroke:0.22px #0a0a66;letter-spacing:0.072px;">Différence (IC 95 %)</div>
<div class="t" id="b2" style="left:257.28px;top:509.39px;font-size:16.67px;color:#0a0a66;-webkit-text-stroke:0.22px #0a0a66;letter-spacing:0.177px;">= 11,6 % (4,4 ; 18,8)</div>
<div class="t" id="b3" style="left:296.03px;top:527.39px;font-size:16.67px;color:#0a0a66;-webkit-text-stroke:0.22px #0a0a66;letter-spacing:0.120px;">(p &lt; 0,001)</div>
<div class="t" id="b4" style="left:304.86px;top:546.09px;font-size:16.67px;color:#0a0a66;-webkit-text-stroke:0.22px #0a0a66;letter-spacing:-0.137px;">Supériorité</div>
<div class="t" id="inc" style="left:424.78px;top:249.73px;font-size:14.50px;color:#0a0a66;font-weight:bold;transform:scaleX(0.9933);transform-origin:0 0;">Inclusion</div>
<div class="t" id="hd1" style="left:614.41px;top:238.98px;font-size:14.50px;color:#ffffff;font-weight:bold;transform:scaleX(1.1092);transform-origin:0 0;">DRV/r</div>
<div class="t" id="hd2" style="left:625.07px;top:259.03px;font-size:14.50px;color:#ffffff;font-weight:bold;transform:scaleX(1.0712);transform-origin:0 0;">(%)</div>
<div class="t" id="hl1" style="left:676.65px;top:238.98px;font-size:14.50px;color:#ffffff;font-weight:bold;transform:scaleX(1.0662);transform-origin:0 0;">LPV/r</div>
<div class="t" id="hl2" style="left:685.07px;top:259.03px;font-size:14.50px;color:#ffffff;font-weight:bold;transform:scaleX(1.0712);transform-origin:0 0;">(%)</div>
<div class="t" id="hp" style="left:751.77px;top:248.88px;font-size:15.50px;color:#0a0a66;font-weight:bold;">p</div>
<div class="t" id="ra1" style="left:425.81px;top:293.64px;font-size:16.67px;color:#0a0a66;-webkit-text-stroke:0.22px #0a0a66;letter-spacing:0.005px;">ARN VIH &lt; 5 log<span style="font-size:0.62em;position:relative;top:0.3em;letter-spacing:0">10</span> c/ml</div>
<div class="t" id="ra2" style="left:425.81px;top:313.64px;font-size:16.67px;color:#0a0a66;-webkit-text-stroke:0.22px #0a0a66;letter-spacing:0.005px;">ARN VIH <u>&gt;</u> 5 log<span style="font-size:0.62em;position:relative;top:0.3em;letter-spacing:0">10</span> c/ml</div>
<div class="t" id="rc1" style="left:425.03px;top:347.64px;font-size:16.67px;color:#0a0a66;-webkit-text-stroke:0.22px #0a0a66;letter-spacing:0.046px;">CD4 <u>&gt;</u> 200/mm<span style="font-size:0.62em;position:relative;top:-0.5em;letter-spacing:0">3</span></div>
<div class="t" id="rc2" style="left:425.05px;top:367.64px;font-size:16.67px;color:#0a0a66;-webkit-text-stroke:0.22px #0a0a66;letter-spacing:0.054px;">CD4 &lt; 200/mm<span style="font-size:0.62em;position:relative;top:-0.5em;letter-spacing:0">3</span></div>
<div class="t" id="va0" style="left:620.29px;top:292.79px;font-size:16.20px;color:#0a0a66;font-weight:bold;letter-spacing:0.621px;">69,5</div>
<div class="t" id="vb0" style="left:680.24px;top:292.79px;font-size:16.20px;color:#0a0a66;font-weight:bold;letter-spacing:0.651px;">60,2</div>
<div class="t" id="vc0" style="left:737.12px;top:292.79px;font-size:16.20px;color:#0a0a66;font-weight:bold;letter-spacing:0.352px;">0,038</div>
<div class="t" id="va1" style="left:620.29px;top:312.79px;font-size:16.20px;color:#0a0a66;font-weight:bold;letter-spacing:0.621px;">67,5</div>
<div class="t" id="vb1" style="left:680.09px;top:312.79px;font-size:16.20px;color:#0a0a66;font-weight:bold;letter-spacing:0.711px;">51,7</div>
<div class="t" id="vc1" style="left:737.14px;top:312.79px;font-size:16.20px;color:#0a0a66;font-weight:bold;letter-spacing:0.388px;">0,012</div>
<div class="t" id="va2" style="left:620.10px;top:347.04px;font-size:16.20px;color:#0a0a66;font-weight:bold;letter-spacing:0.756px;">71,3</div>
<div class="t" id="vb2" style="left:680.09px;top:347.04px;font-size:16.20px;color:#0a0a66;font-weight:bold;letter-spacing:0.754px;">59,6</div>
<div class="t" id="vc2" style="left:737.08px;top:347.04px;font-size:16.20px;color:#0a0a66;font-weight:bold;letter-spacing:0.244px;">0,014</div>
<div class="t" id="va3" style="left:620.24px;top:367.04px;font-size:16.20px;color:#0a0a66;font-weight:bold;letter-spacing:0.651px;">65,2</div>
<div class="t" id="vb3" style="left:680.09px;top:367.04px;font-size:16.20px;color:#0a0a66;font-weight:bold;letter-spacing:0.616px;">54,1</div>
<div class="t" id="vc3" style="left:737.14px;top:367.04px;font-size:16.20px;color:#0a0a66;font-weight:bold;letter-spacing:0.388px;">0,052</div>
<div class="t" id="x1" style="left:516.37px;top:450.19px;font-size:17.20px;color:#0a0a66;-webkit-text-stroke:0.22px #0a0a66;letter-spacing:0.268px;">Augmentation médiane des</div>
<div class="t" id="x2" style="left:500.12px;top:471.44px;font-size:17.20px;color:#0a0a66;-webkit-text-stroke:0.22px #0a0a66;letter-spacing:0.407px;">CD4/mm<span style="font-size:0.62em;position:relative;top:-0.5em;letter-spacing:0">3</span> à S192 (ITT, NC = E)</div>
<div class="t" id="x3" style="left:502.10px;top:492.44px;font-size:17.20px;color:#0a0a66;-webkit-text-stroke:0.22px #0a0a66;letter-spacing:0.298px;">+ 258 (DRV/r) vs + 263 (LPV/r)</div>
<div class="t" id="ref" style="left:587.98px;top:576.90px;font-size:14.00px;color:#cf3c40;font-style:italic;letter-spacing:-0.269px;">Orkin C. HIV Med 2012;14:49-59</div>
<div class="t" id="art" style="left:15.11px;top:581.81px;font-size:13.00px;color:#2b2b8b;font-weight:bold;font-style:italic;font-family:'Liberation Serif', serif;letter-spacing:-0.425px;">ARTEMIS</div>
<div class="t" id="lg1" style="left:718.49px;top:83.31px;font-size:11.80px;color:#e8641f;letter-spacing:-0.013px;">ARV-</div>
<div class="t" id="lg2" style="left:745.55px;top:83.31px;font-size:11.80px;color:#3454a6;letter-spacing:-0.312px;">trials</div>
<div class="t" id="lg3" style="left:768.78px;top:83.31px;font-size:11.80px;color:#ee8a30;letter-spacing:-1.122px;">com</div>
</div>
</body>
</html>
